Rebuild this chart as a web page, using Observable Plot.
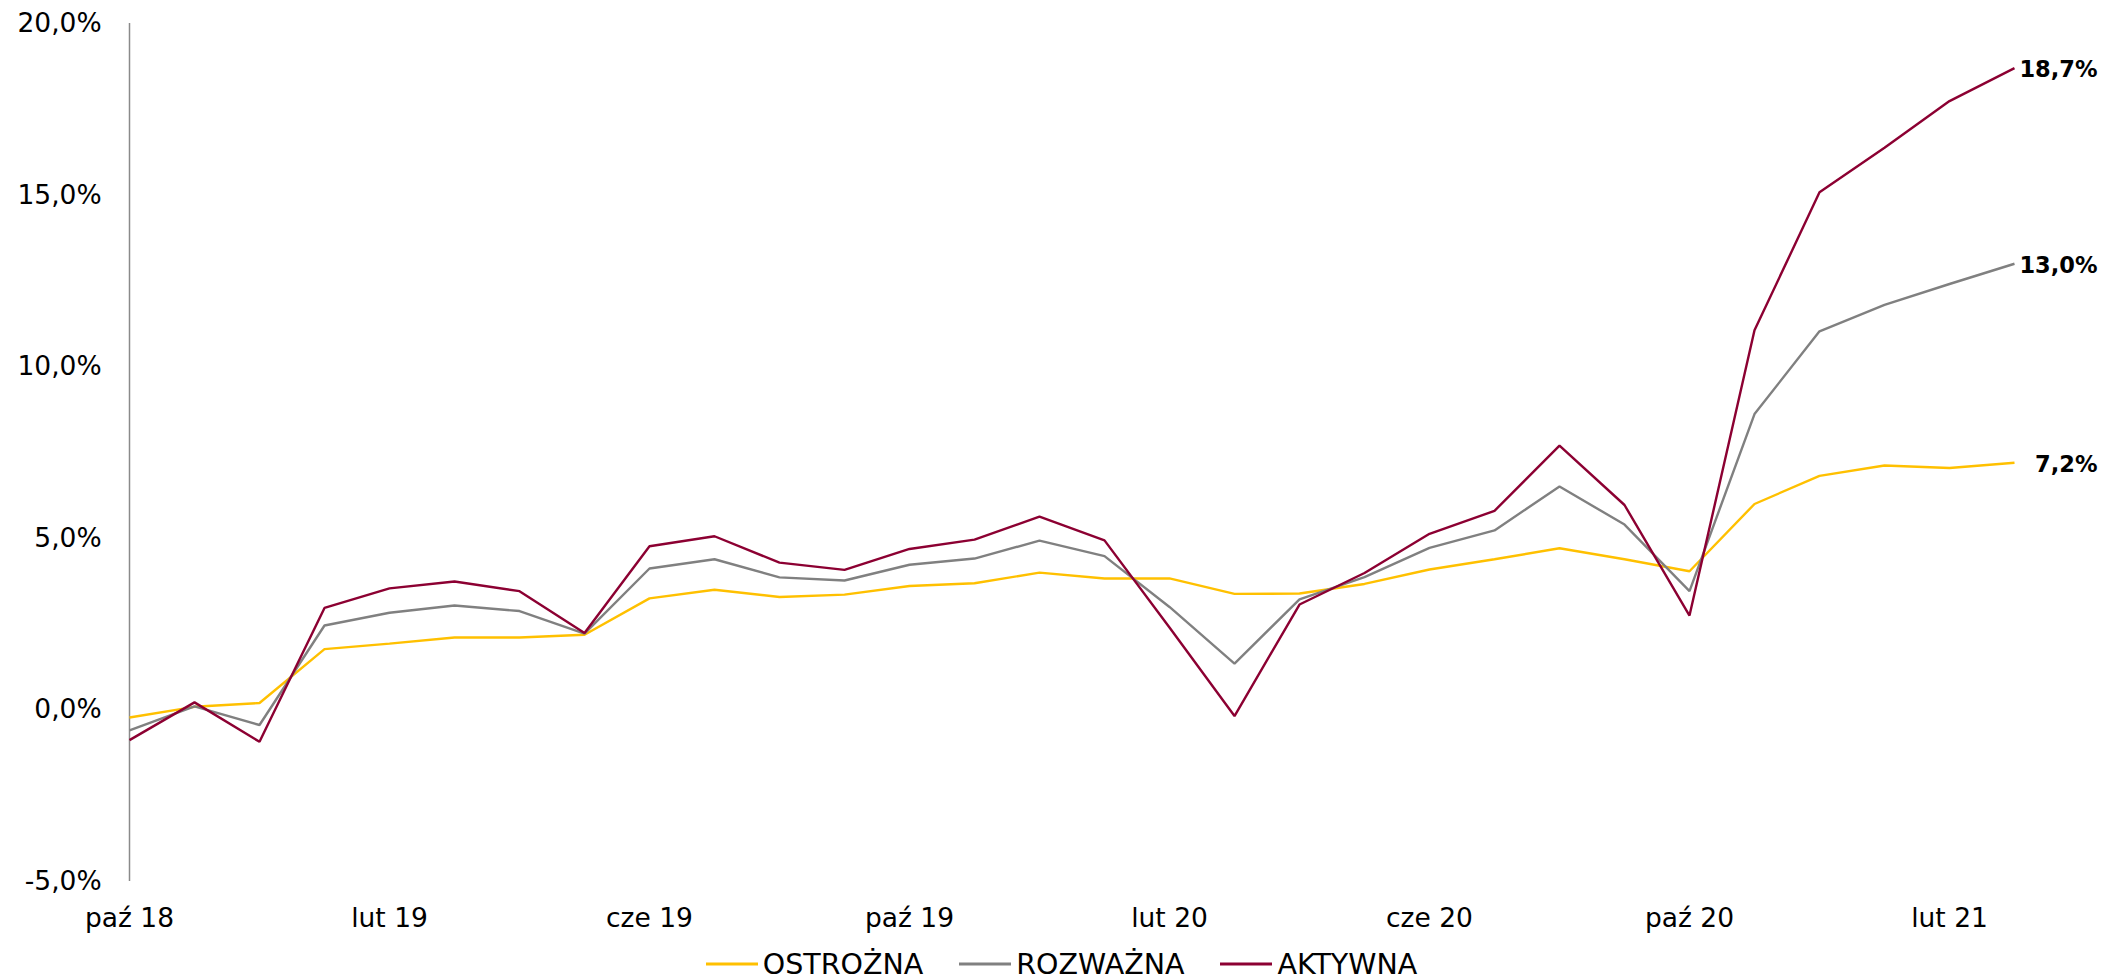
<!DOCTYPE html>
<html>
<head>
<meta charset="utf-8">
<script src="https://cdn.jsdelivr.net/npm/d3@7"></script>
<script src="https://cdn.jsdelivr.net/npm/@observablehq/plot@0.6"></script>
<style>
  html, body { margin: 0; padding: 0; background: #fff; }
  body { width: 2123px; height: 980px; overflow: hidden; font-family: "DejaVu Sans", Verdana, sans-serif; }
  #legend { display: flex; justify-content: center; align-items: center; height: 40px; margin-top: 4px; font-size: 28.5px; color: #000; }
  .item { display: flex; align-items: center; margin: 0 18px; }
  .item svg { margin-right: 5px; }
</style>
</head>
<body>
<div id="chart"></div>
<div id="legend"></div>
<script>
const months = [
  "paź 18","lis 18","gru 18","sty 19","lut 19","mar 19","kwi 19","maj 19","cze 19","lip 19","sie 19","wrz 19",
  "paź 19","lis 19","gru 19","sty 20","lut 20","mar 20","kwi 20","maj 20","cze 20","lip 20","sie 20","wrz 20",
  "paź 20","lis 20","gru 20","sty 21","lut 21","mar 21"
];
const xTickLabels = ["paź 18","lut 19","cze 19","paź 19","lut 20","cze 20","paź 20","lut 21"];
const yTicks = [-5, 0, 5, 10, 15, 20];

const ostrozna = [-0.22, 0.09, 0.20, 1.77, 1.93, 2.11, 2.11, 2.19, 3.25, 3.50, 3.29, 3.36, 3.61, 3.69, 4.00, 3.83,
  3.83, 3.38, 3.39, 3.67, 4.09, 4.39, 4.71, 4.39, 4.04, 6.00, 6.82, 7.12, 7.05, 7.2];
const rozwazna = [-0.60, 0.10, -0.44, 2.46, 2.83, 3.04, 2.88, 2.22, 4.12, 4.39, 3.86, 3.77, 4.23, 4.41, 4.93, 4.48,
  3.00, 1.35, 3.22, 3.87, 4.72, 5.23, 6.51, 5.40, 3.46, 8.62, 11.03, 11.80, 12.41, 13.0];
const aktywna = [-0.88, 0.22, -0.93, 2.97, 3.54, 3.74, 3.46, 2.24, 4.77, 5.06, 4.29, 4.08, 4.69, 4.96, 5.63, 4.94,
  2.40, -0.18, 3.07, 3.99, 5.13, 5.80, 7.70, 5.97, 2.75, 11.06, 15.08, 16.38, 17.74, 18.7];

const seriesNames = ["OSTROŻNA", "ROZWAŻNA", "AKTYWNA"];
const seriesValues = [ostrozna, rozwazna, aktywna];
const seriesColors = ["#FFC000", "#808080", "#8C0032"];

const rows = [];
seriesNames.forEach((name, s) => {
  seriesValues[s].forEach((v, i) => rows.push({series: name, month: months[i], value: v}));
});
const lastRows = seriesNames.map((name, s) => ({series: name, month: months[months.length - 1], value: seriesValues[s][seriesValues[s].length - 1]}));

const fmt = v => v.toFixed(1).replace(".", ",") + "%";

const chart = Plot.plot({
  width: 2123,
  height: 940,
  marginLeft: 128.6,
  marginRight: 109.4,
  marginTop: 23,
  marginBottom: 59,
  style: {fontFamily: "DejaVu Sans, Verdana, sans-serif", fontSize: "26px", color: "#000", background: "#fff"},
  x: {type: "point", domain: months, padding: 0, axis: null},
  y: {domain: [-5, 20], axis: null},
  color: {domain: seriesNames, range: seriesColors},
  marks: [
    Plot.axisY(yTicks, {tickSize: 0, tickPadding: 27.5, tickFormat: fmt, fontSize: 26.5, fill: "#000", label: null}),
    Plot.axisX(xTickLabels, {tickSize: 0, tickPadding: 26.5, fontSize: 26.5, fill: "#000", label: null}),
    Plot.ruleX([months[0]], {y1: -5, y2: 20, stroke: "#8a8a8a", strokeWidth: 1.5}),
    Plot.ruleY([0], {x1: months[0], x2: months[months.length - 1], stroke: "#000", strokeWidth: 1.3}),
    Plot.line(rows, {x: "month", y: "value", z: "series", stroke: "series", strokeWidth: 2.4, strokeLinejoin: "miter", strokeLinecap: "butt"}),
    Plot.text(lastRows, {x: "month", y: "value", text: d => fmt(d.value), textAnchor: "end", dx: 83, dy: 2, fontWeight: "bold", fontSize: 22.5, fill: "#000"})
  ]
});
document.getElementById("chart").appendChild(chart);

const legend = document.getElementById("legend");
seriesNames.forEach((name, s) => {
  const item = document.createElement("div");
  item.className = "item";
  item.innerHTML = `<svg width="52" height="10"><line x1="0" x2="52" y1="5" y2="5" stroke="${seriesColors[s]}" stroke-width="3"/></svg><span>${name}</span>`;
  legend.appendChild(item);
});
</script>
</body>
</html>
